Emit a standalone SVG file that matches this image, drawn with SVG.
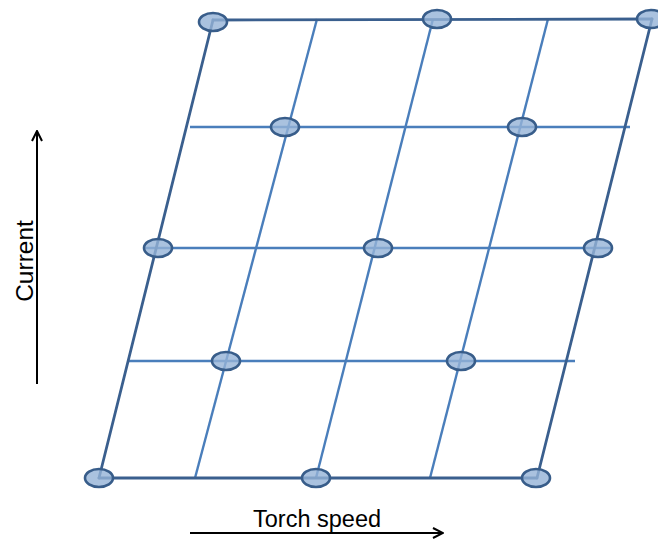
<svg xmlns="http://www.w3.org/2000/svg" width="658" height="541" viewBox="0 0 658 541">
<defs>
<style>
.edge{stroke:#3a5f8e;stroke-width:2.8;fill:none;stroke-linecap:round}
.grid{stroke:#4a7ebb;stroke-width:2.4;fill:none}
.pt{fill:#95b3d7;fill-opacity:0.8;stroke:#385d8a;stroke-width:2.6}
.ax{stroke:#000;stroke-width:2;fill:none}
.lbl{font-family:"Liberation Sans",Arial,sans-serif;fill:#000}
</style>
<marker id="arr" viewBox="0 0 12 12" refX="11" refY="6" markerWidth="12" markerHeight="12" markerUnits="userSpaceOnUse" orient="auto">
<path d="M1,1 L11,6 L1,11" fill="none" stroke="#000" stroke-width="2"/>
</marker>
</defs>
<g id="connectors">
<line class="grid" x1="190" y1="127" x2="630" y2="127"/>
<line class="grid" x1="145" y1="248" x2="613" y2="248"/>
<line class="grid" x1="128" y1="361" x2="575" y2="361"/>
<line class="grid" x1="317" y1="19" x2="195" y2="478"/>
<line class="grid" x1="433" y1="19" x2="316" y2="478"/>
<line class="grid" x1="548" y1="19" x2="430" y2="478"/>
<line class="edge" x1="213" y1="20" x2="652" y2="19"/>
<line class="edge" x1="99" y1="478" x2="537" y2="478"/>
<line class="edge" x1="213" y1="20" x2="99" y2="478"/>
<line class="edge" x1="652" y1="19" x2="537" y2="478"/>
</g>
<g id="points">
<ellipse class="pt" cx="213" cy="22" rx="14" ry="9"/>
<ellipse class="pt" cx="437" cy="19" rx="14" ry="9"/>
<ellipse class="pt" cx="651" cy="19" rx="14" ry="9"/>
<ellipse class="pt" cx="285" cy="127" rx="14" ry="9"/>
<ellipse class="pt" cx="522" cy="127" rx="14" ry="9"/>
<ellipse class="pt" cx="158" cy="248" rx="14" ry="9"/>
<ellipse class="pt" cx="378" cy="248" rx="14" ry="9"/>
<ellipse class="pt" cx="598" cy="248" rx="14" ry="9"/>
<ellipse class="pt" cx="226" cy="361" rx="14" ry="9"/>
<ellipse class="pt" cx="461" cy="361" rx="14" ry="9"/>
<ellipse class="pt" cx="99" cy="478" rx="14" ry="9"/>
<ellipse class="pt" cx="316" cy="478" rx="14" ry="9"/>
<ellipse class="pt" cx="536" cy="478" rx="14" ry="9"/>
</g>
<g id="axis-current">
<line class="ax" x1="37" y1="384" x2="37" y2="131" marker-end="url(#arr)"/>
<text class="lbl" font-size="24.5" text-anchor="middle" transform="translate(33,261) rotate(-90)">Current</text>
</g>
<g id="axis-torch">
<line class="ax" x1="190" y1="533" x2="443" y2="533" marker-end="url(#arr)"/>
<text class="lbl" font-size="23.5" x="253" y="527">Torch speed</text>
</g>
</svg>
